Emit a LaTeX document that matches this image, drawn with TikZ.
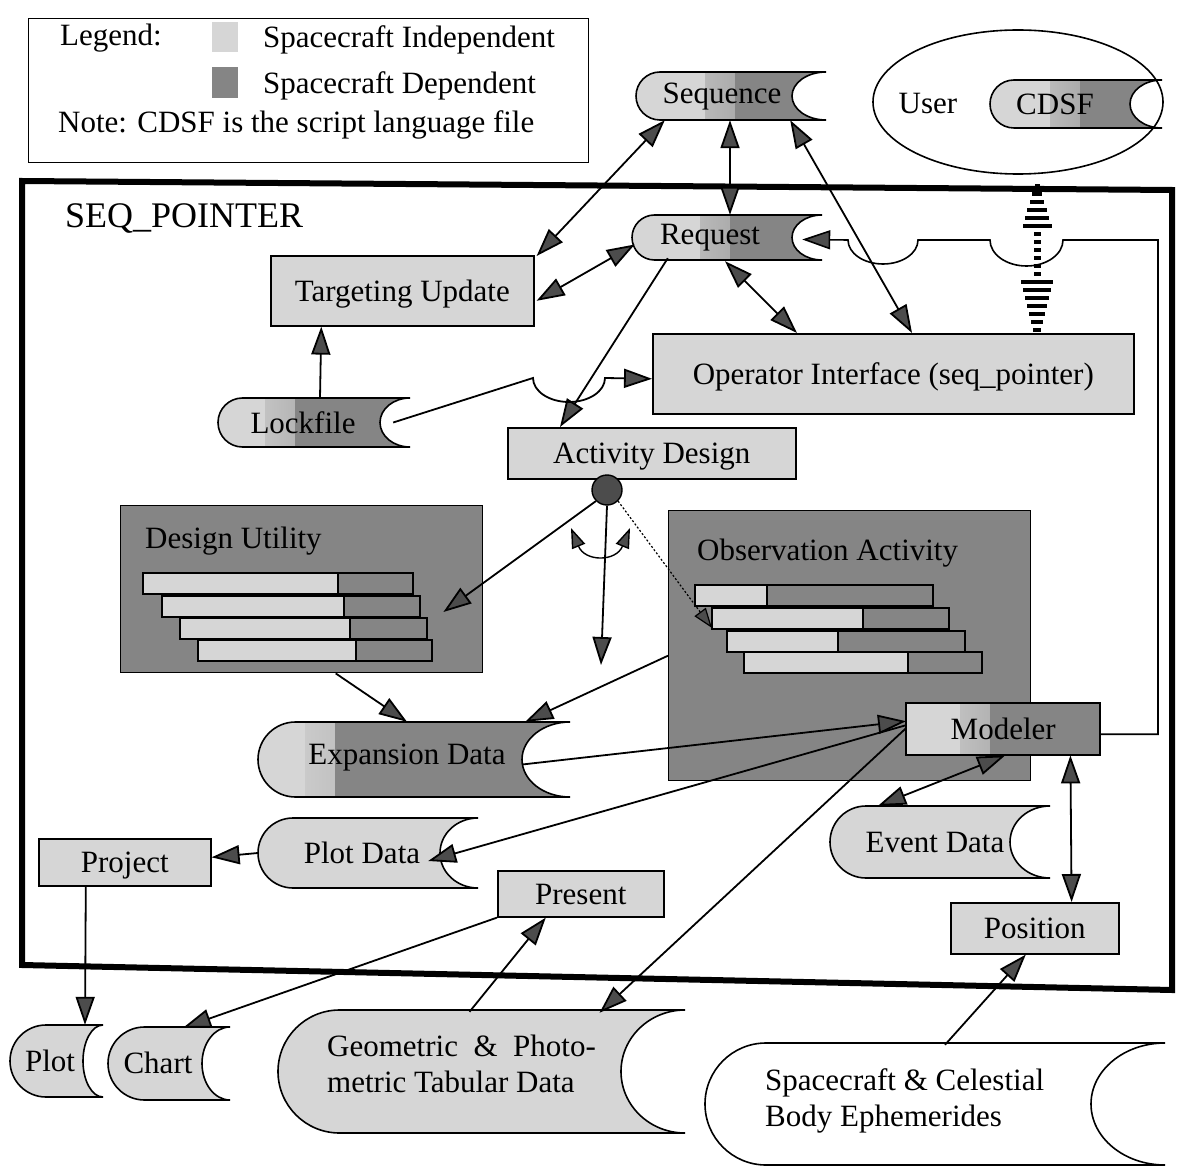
\documentclass[tikz,border=0pt]{standalone}
\usepackage{fontspec}
\setmainfont{Liberation Serif}
\usetikzlibrary{arrows.meta,calc,shapes.geometric}
\definecolor{lite}{gray}{0.84}
\definecolor{dark}{gray}{0.52}
\tikzset{
  txt/.style={font=\fontsize{31}{36}\selectfont, inner sep=0pt},
  boxtxt/.style={txt, text height=24.5pt, text depth=3.5pt},
  box/.style={draw, line width=1.6pt, fill=lite, inner sep=0pt, anchor=north west, boxtxt},
  conn/.style={line width=1.8pt},
  >={Triangle[length=28pt,width=19pt,fill=black!70]},
  small/.style={line width=1.4pt, >={Triangle[length=20pt,width=14pt,fill=black!70]}},
  splitat/.style={fill=lite, path picture={
      \shade[left color=lite, right color=dark] ({#1-30},-100) rectangle (#1,1300);
      \fill[dark] (#1,-100) rectangle (1300,1300);}},
  plain/.style={fill=black!16},
  barl/.style={fill=lite, draw, line width=1.4pt},
  bard/.style={fill=dark, draw, line width=1.4pt},
}
% data store: #1 name, #2 x0, #3 y0, #4 x1, #5 y1, #6 concave depth, #7 fill options
\newcommand\dstore[7]{%
  \pgfmathsetmacro\dsr{(#5-#3)/2}%
  \path[draw, line width=1.6pt, #7] (#4,#3) -- ({#2+\dsr},#3)
     arc[start angle=270, end angle=90, radius=\dsr] -- (#4,#5)
     arc[start angle=90, end angle=270, x radius=#6, y radius=\dsr] -- cycle;
  \node[inner sep=0pt, minimum width={#4-#2}, minimum height={#5-#3}] (#1) at ({(#2+#4)/2},{(#3+#5)/2}) {};
}
\begin{document}
\begin{tikzpicture}[x=1pt, y=-1pt]
\useasboundingbox (0,0) rectangle (1178,1166);

% ---------------- legend ----------------
\node[draw, line width=1.4pt, minimum width=560, minimum height=144, anchor=north west, inner sep=0pt] (legend) at (28,18) {};
\node[txt, anchor=base west] (lg1) at (60,46) {Legend:};
\fill[lite] (212,22) rectangle (238,52);
\fill[dark] (212,67) rectangle (238,98);
\node[txt, anchor=base west] (lg2) at (263,48) {Spacecraft Independent};
\node[txt, anchor=base west] (lg3) at (263,94) {Spacecraft Dependent};
\node[txt, anchor=base west] (lg4) at (58,133) {Note: CDSF is the script language file};

% ---------------- outer SEQ_POINTER frame ----------------
\draw[line width=6pt, line join=miter] (22,181) -- (1172,190) -- (1172,990) -- (22,965) -- cycle;
\node[font=\fontsize{36}{40}\selectfont, inner sep=0pt, anchor=base west] (title) at (65,228) {SEQ\_POINTER};

% ---------------- user ----------------
\node[draw, ellipse, line width=1.6pt, minimum width=290, minimum height=144, inner sep=0pt] (user) at (1018,102) {};
\node[txt] (usert) at (928,104) {User};
\dstore{cdsf}{990}{80}{1162}{128}{32}{splitat=1080}
\node[txt] (cdsft) at (1055,104) {CDSF};

% ---------------- data stores ----------------
\dstore{seq}{636}{72}{826}{120}{34}{splitat=735}
\node[txt] (seqt) at (722,97) {Sequence};
\dstore{req}{632}{215}{822}{260}{30}{splitat=730}
\node[txt] (reqt) at (710,238) {Request};
\dstore{lock}{218}{398}{410}{447}{30}{splitat=295}
\node[txt] (lockt) at (303,423) {Lockfile};

% ---------------- boxes ----------------
\node[box, minimum width=263, minimum height=70] (tu) at (270,255) {Targeting Update};
\node[box, minimum width=481, minimum height=80] (opi) at (652,333) {Operator Interface (seq\_pointer)};
\node[box, minimum width=288, minimum height=51] (ad) at (507,427) {Activity Design};

% Design Utility
\node[draw, line width=1.4pt, fill=dark, minimum width=362, minimum height=167, anchor=north west, inner sep=0pt] (du) at (120,505) {};
\node[txt, anchor=base west] (dut) at (145,548) {Design Utility};
\foreach \a/\b/\c/\y in {143/338/413/573, 162/344/420/596, 180/350/427/618, 198/356/432/640}{
  \filldraw[barl] (\a,\y) rectangle (\b,\y+21);
  \filldraw[bard] (\b,\y) rectangle (\c,\y+21);
}

% Observation Activity
\node[draw, line width=1.4pt, fill=dark, minimum width=362, minimum height=270, anchor=north west, inner sep=0pt] (oa) at (668,510) {};
\node[txt, anchor=base west] (oat) at (697,560) {Observation Activity};
\foreach \a/\b/\c/\y in {695/767/933/585, 712/863/949/608, 727/838/965/631, 744/908/982/652}{
  \filldraw[barl] (\a,\y) rectangle (\b,\y+21);
  \filldraw[bard] (\b,\y) rectangle (\c,\y+21);
}

% Modeler (split fill drawn as a path, named node on top)
\path[draw, line width=1.6pt, splitat=990] (906,703) rectangle (1100,755);
\node[boxtxt, minimum width=194, minimum height=52, anchor=north west] (mod) at (906,703) {Modeler};

\dstore{exp}{258}{722}{570}{797}{48}{splitat=335}
\node[txt] (expt) at (407,758) {Expansion Data};
\dstore{pd}{258}{818}{478}{888}{38}{plain}
\node[txt] (pdt) at (362,853) {Plot Data};
\dstore{ev}{830}{806}{1050}{878}{40}{plain}
\node[txt] (evt) at (935,842) {Event Data};

\node[box, minimum width=172, minimum height=47] (proj) at (38,838) {Project};
\node[box, minimum width=166, minimum height=46] (pres) at (497,870) {Present};
\node[box, minimum width=168, minimum height=51] (pos) at (950,902) {Position};

\dstore{plot}{10}{1025}{103}{1097}{20}{plain}
\node[txt] (plott) at (50,1061) {Plot};
\dstore{chart}{108}{1027}{230}{1100}{28}{plain}
\node[txt] (chartt) at (158,1063) {Chart};
\dstore{geo}{278}{1010}{685}{1133}{64}{plain}
\node[txt, anchor=base west] (geot1) at (327,1056) {Geometric\ \ \&\ \ Photo-};
\node[txt, anchor=base west] (geot2) at (327,1092) {metric Tabular Data};
\dstore{eph}{705}{1043}{1165}{1165}{74}{fill=white}
\node[txt, anchor=base west] (epht1) at (765,1090) {Spacecraft \& Celestial};
\node[txt, anchor=base west] (epht2) at (765,1126) {Body Ephemerides};

% ---------------- activity design dot ----------------
\node[circle, draw, line width=1.4pt, fill=black!70, minimum size=30, inner sep=0pt] (dot) at (607,490) {};
\coordinate (downend) at (601,665);
\coordinate (arcL) at (571,528);
\coordinate (arcR) at (630,528);

% ---------------- connectors ----------------
\draw[conn,<->] ($(seq.south west)+(29,0)$) -- ($(tu.north east)+(2,1)$);
\draw[conn,<->] ($(seq.south)+(-1,0)$) -- ($(req.north)+(3,0)$);
\draw[conn,<->] ($(seq.south east)+(-36,0)$) -- ($(opi.north west)+(260,0)$);
\draw[conn,<->] ($(req.west)+(3,7)$) -- ($(tu.east)+(2,10)$);
\draw[conn,<->] ($(req.south)+(-2,1)$) -- ($(opi.north west)+(145,0)$);
\draw[conn,->] ($(req.south west)+(36,-2)$) -- ($(ad.north west)+(53,0)$);
\coordinate (jl) at (533,378);
\draw[conn,->] ($(lock.east)+(-17,0)$) -- (jl) arc[start angle=180, end angle=0, x radius=36, y radius=24] -- ($(opi.west)+(0,5)$);
\draw[conn,->] ($(lock.north)+(6,0)$) -- ($(tu.south)+(-81,0)$);
\coordinate (loopR) at (1158,240);
\draw[line width=1.6pt,->] ($(mod.east)+(0,5)$) -| (loopR) -- ++(-95,0)
   arc[start angle=0, end angle=180, x radius=36.5, y radius=26] -- ++(-72,0)
   arc[start angle=0, end angle=180, x radius=35, y radius=24] -- ($(req.east)+(-20,2)$);

\draw[conn,->] ($(du.south)+(34,0)$) -- ($(exp.north)+(-7,0)$);
\draw[conn,->] ($(oa.west)+(0,10)$) -- ($(exp.north east)+(-45,0)$);
\draw[conn,->] ($(exp.east)+(-48,5)$) -- ($(mod.west)+(0,-8)$);
\draw[conn,->] ($(mod.west)+(0,-4)$) -- ($(pd.east)+(-50,8)$);
\draw[conn,->] ($(mod.west)+(0,-1)$) -- ($(geo.north)+(118,3)$);
\draw[conn,<->] ($(mod.south)+(2,0)$) -- ($(ev.north)+(-62,0)$);
\draw[conn,<->] ($(mod.south east)+(-30,0)$) -- ($(pos.north east)+(-48,0)$);
\draw[conn,->] ($(eph.north)+(10,2)$) -- ($(pos.south)+(-9,0)$);
\draw[conn,->] ($(geo.north)+(-12,2)$) -- ($(pres.south)+(-35,0)$);
\draw[conn,->] (pres.south west) -- ($(chart.north)+(14,1)$);
\draw[conn,->] (pd.west) -- ($(proj.east)+(0,-5)$);
\draw[conn,->] ($(proj.south)+(-39,0)$) -- ($(plot.north)+(28.5,0)$);

% from the activity dot
\draw[conn,->] (dot.south west) -- ($(du.north east)+(-40,107)$);
\draw[conn,->] (dot.south) -- (downend);
\draw[line width=1.2pt, dash pattern=on 2pt off 2pt, -{Triangle[length=20pt,width=14pt,fill=black!70]}] (dot.south east) -- ($(oa.north west)+(44,118)$);
\draw[small,<->] (arcL) .. controls (585,562) and (616,562) .. (arcR);

% striped user <-> operator interface connector
\foreach \yy in {184,192,...,332}{
  \pgfmathsetmacro\ww{\yy<=229 ? 5+27*(\yy-184)/45 : (\yy<=276 ? 7 : 32-27*(\yy-280)/52)}
  \fill ({1037-\ww/2},\yy) rectangle ({1037+\ww/2},\yy+4);
}
\end{tikzpicture}
\end{document}
